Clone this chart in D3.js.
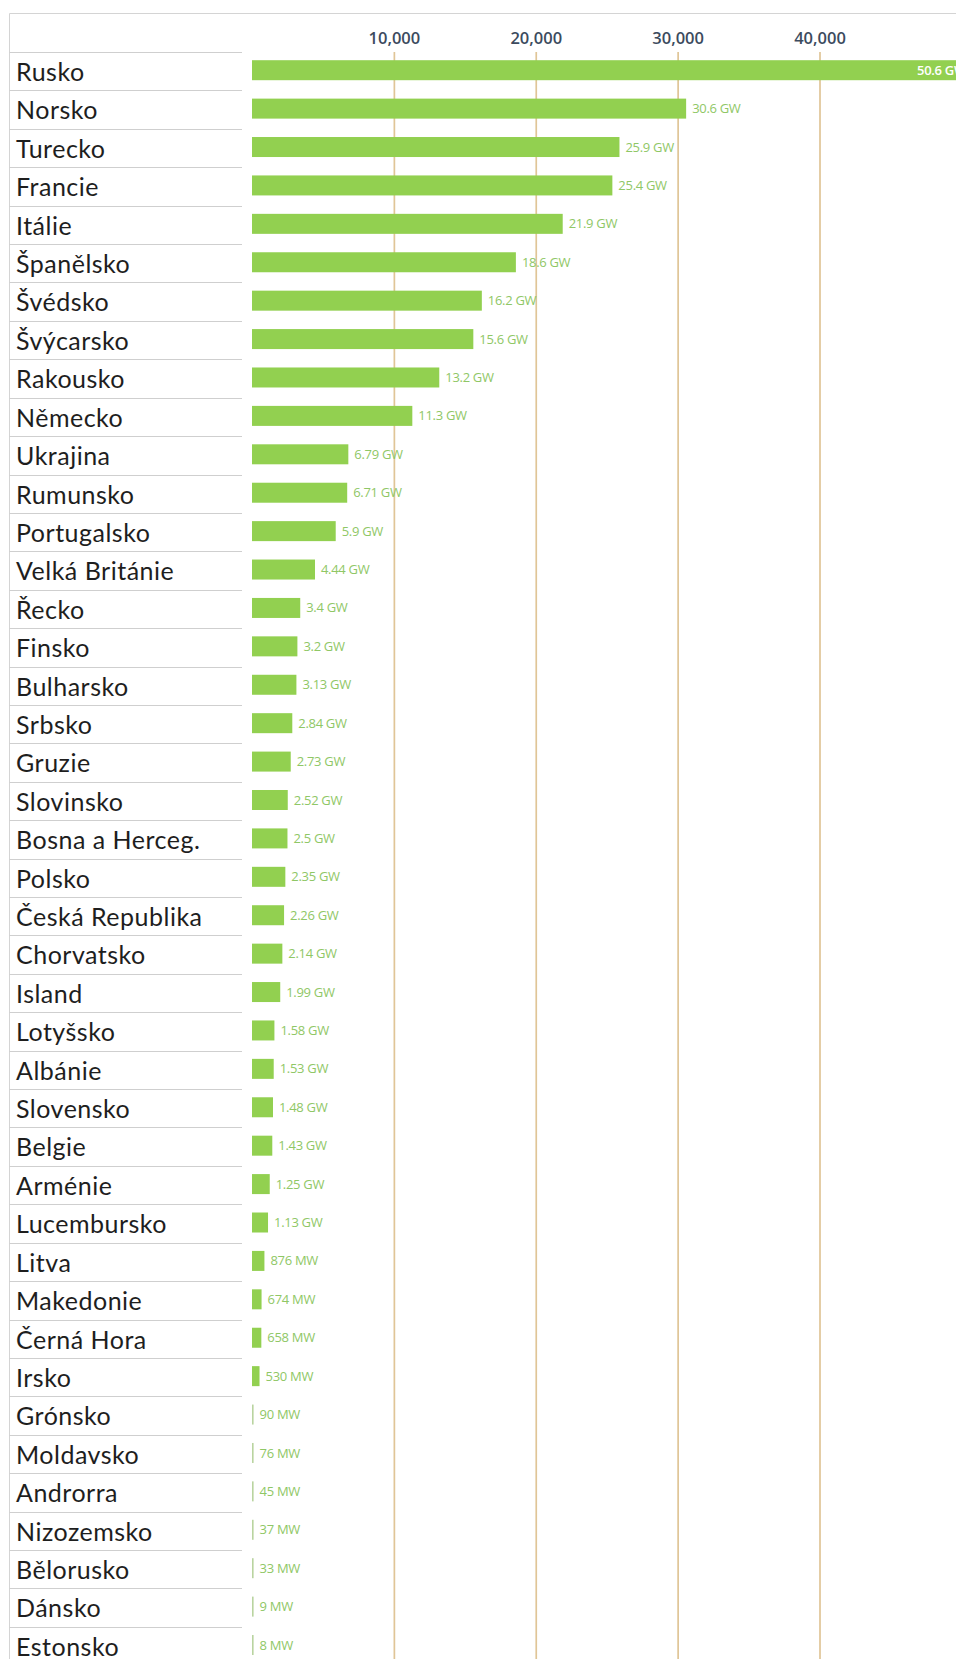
<!DOCTYPE html>
<html>
<head>
<meta charset="utf-8">
<script src="https://cdn.jsdelivr.net/npm/d3@7"></script>
<style>
  html, body { margin: 0; padding: 0; background: #fff; overflow: hidden; }
  svg { display: block; }
</style>
</head>
<body>
<svg id="chart"></svg>
<script>
'use strict'

const countries = [
  'Rusko', 'Norsko', 'Turecko', 'Francie', 'Itálie', 'Španělsko', 'Švédsko',
  'Švýcarsko', 'Rakousko', 'Německo', 'Ukrajina', 'Rumunsko', 'Portugalsko',
  'Velká Británie', 'Řecko', 'Finsko', 'Bulharsko', 'Srbsko', 'Gruzie',
  'Slovinsko', 'Bosna a Herceg.', 'Polsko', 'Česká Republika', 'Chorvatsko',
  'Island', 'Lotyšsko', 'Albánie', 'Slovensko', 'Belgie', 'Arménie',
  'Lucembursko', 'Litva', 'Makedonie', 'Černá Hora', 'Irsko', 'Grónsko',
  'Moldavsko', 'Androrra', 'Nizozemsko', 'Bělorusko', 'Dánsko', 'Estonsko'
]

// installed capacity, MW
const capacityMW = [
  50600, 30600, 25900, 25400, 21900, 18600, 16200,
  15600, 13200, 11300, 6790, 6710, 5900,
  4440, 3400, 3200, 3130, 2840, 2730,
  2520, 2500, 2350, 2260, 2140,
  1990, 1580, 1530, 1480, 1430, 1250,
  1130, 876, 674, 658, 530, 90,
  76, 45, 37, 33, 9, 8
]

const tickValues = [10000, 20000, 30000, 40000]

const width = 956
const height = 1659
const settings = {
  borderLeft: 9.5,
  borderTop: 13.5,
  headerBottom: 52,
  rowHeight: 38.41,
  labelLineEnd: 242,
  barHeight: 20,
  minBarWidth: 1.6,
  labelGap: 6
}

const rows = countries.map((name, i) => ({ name, value: capacityMW[i] }))

const formatValue = v => v >= 1000 ? `${+(v / 1000).toFixed(2)} GW` : `${v} MW`

const svg = d3.select('#chart')
  .attr('width', width)
  .attr('height', height)

const x = d3.scaleLinear()
  .domain([0, 40000])
  .range([252, 819.5])

const y = d3.scaleBand()
  .domain(countries)
  .range([settings.headerBottom, settings.headerBottom + countries.length * settings.rowHeight])

// the first bar runs past the page edge, so its label goes inside it
const isClipped = d => x(d.value) > width - 60

// frame: top rule and left rule
svg.append('line')
  .attr('x1', settings.borderLeft).attr('x2', width)
  .attr('y1', settings.borderTop).attr('y2', settings.borderTop)
  .style('stroke', '#d4d4d4').style('stroke-width', 1)

svg.append('line')
  .attr('x1', settings.borderLeft).attr('x2', settings.borderLeft)
  .attr('y1', settings.borderTop).attr('y2', height)
  .style('stroke', '#d4d4d4').style('stroke-width', 1)

// label column separators
svg.append('g')
  .selectAll('line')
  .data([settings.headerBottom].concat(countries.slice(1).map(c => y(c))))
  .enter()
  .append('line')
  .attr('x1', settings.borderLeft).attr('x2', settings.labelLineEnd)
  .attr('y1', d => Math.round(d) + 0.5).attr('y2', d => Math.round(d) + 0.5)
  .style('stroke', '#cfcfcf').style('stroke-width', 1)

// vertical gridlines + tick labels, via the axis generator
const xAxis = d3.axisTop(x)
  .tickValues(tickValues)
  .tickFormat(d3.format(','))
  .tickSize(-(height - settings.headerBottom))
  .tickPadding(8)

const axisGroup = svg.append('g')
  .attr('transform', `translate(0,${settings.headerBottom})`)
  .call(xAxis)

axisGroup.select('.domain').remove()
axisGroup.selectAll('.tick line')
  .style('stroke', '#e0c597')
  .style('stroke-width', 1.7)
axisGroup.selectAll('.tick text')
  .attr('fill', '#3c4b5e')
  .style('font-family', '"Open Sans", sans-serif')
  .style('font-size', '16.5px')
  .style('font-weight', 600)

// country names
svg.append('g')
  .selectAll('text')
  .data(rows)
  .enter()
  .append('text')
  .attr('x', 16)
  .attr('y', d => y(d.name) + 29)
  .text(d => d.name)
  .style('font-family', 'Lato, "Open Sans", sans-serif')
  .style('font-size', '25px')
  .style('letter-spacing', '0.5px')
  .attr('fill', '#1e1e1e')

// bars
const barOffset = (settings.rowHeight - settings.barHeight) / 2 - 1
const bars = svg.append('g')
  .selectAll('g')
  .data(rows)
  .enter()
  .append('g')
  .attr('transform', d => `translate(0,${y(d.name) + barOffset})`)

bars.append('rect')
  .attr('x', x(0))
  .attr('y', 0)
  .attr('width', d => Math.max(x(d.value) - x(0), settings.minBarWidth))
  .attr('height', settings.barHeight)
  .attr('fill', d => x(d.value) - x(0) < 3 ? '#b9d4a0' : '#92d050')

bars.append('text')
  .attr('x', d => isClipped(d) ? x(d.value) - 4 : Math.max(x(d.value), x(0) + settings.minBarWidth) + settings.labelGap)
  .attr('y', settings.barHeight / 2)
  .attr('dy', '0.35em')
  .attr('text-anchor', d => isClipped(d) ? 'end' : 'start')
  .attr('fill', d => isClipped(d) ? '#ffffff' : '#8fc766')
  .style('font-family', '"Open Sans", sans-serif')
  .style('font-size', '13px')
  .style('font-weight', d => isClipped(d) ? 600 : 400)
  .style('letter-spacing', '-0.3px')
  .text(d => formatValue(d.value))
</script>
</body>
</html>
